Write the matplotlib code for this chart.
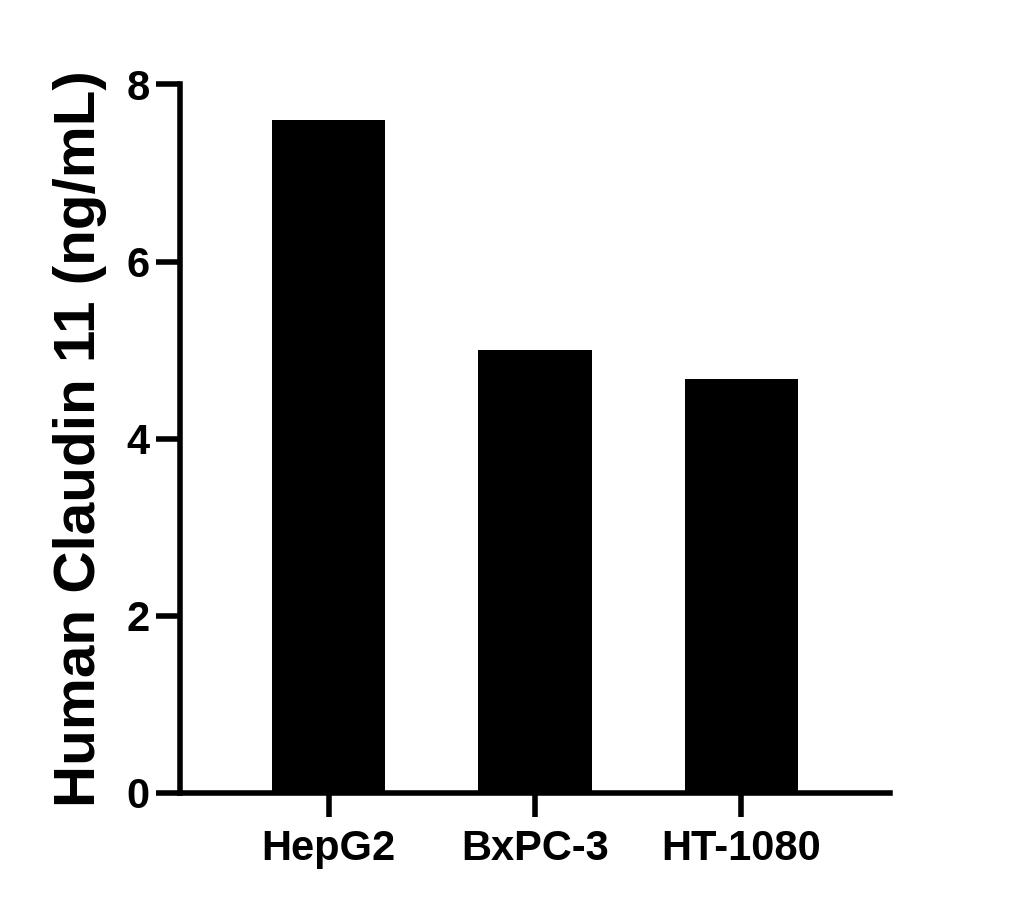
import matplotlib
matplotlib.use('Agg')
import matplotlib.pyplot as plt

cell_lines = ['HepG2', 'BxPC-3', 'HT-1080']
claudin_ng_ml = [7.6, 5.0, 4.67]

plt.rcParams['font.family'] = ['Liberation Sans', 'DejaVu Sans']
plt.rcParams['font.weight'] = 'bold'

fig = plt.figure(figsize=(10.24, 9.10), dpi=100)
ax = fig.add_axes([0.176, 0.1286, 0.693, 0.7786])

x = list(range(len(cell_lines)))
ax.bar(x, claudin_ng_ml, width=0.55, color='black')

ax.set_xlim(-0.72, 2.72)
ax.set_ylim(0, 8)
ax.set_yticks([0, 2, 4, 6, 8])
ax.set_xticks(x)
ax.set_xticklabels(cell_lines)

for side in ['top', 'right']:
    ax.spines[side].set_visible(False)
for side in ['left', 'bottom']:
    ax.spines[side].set_linewidth(4)

ax.tick_params(axis='both', direction='out', length=17, width=4, labelsize=30, color='black')
ax.tick_params(axis='y', pad=5)
ax.tick_params(axis='x', pad=9)
for lbl in ax.get_xticklabels() + ax.get_yticklabels():
    lbl.set_fontweight('bold')

ax.set_ylabel('Human Claudin 11 (ng/mL)', fontsize=42, fontweight='bold', labelpad=14)

fig.savefig('out.png', dpi=100)
